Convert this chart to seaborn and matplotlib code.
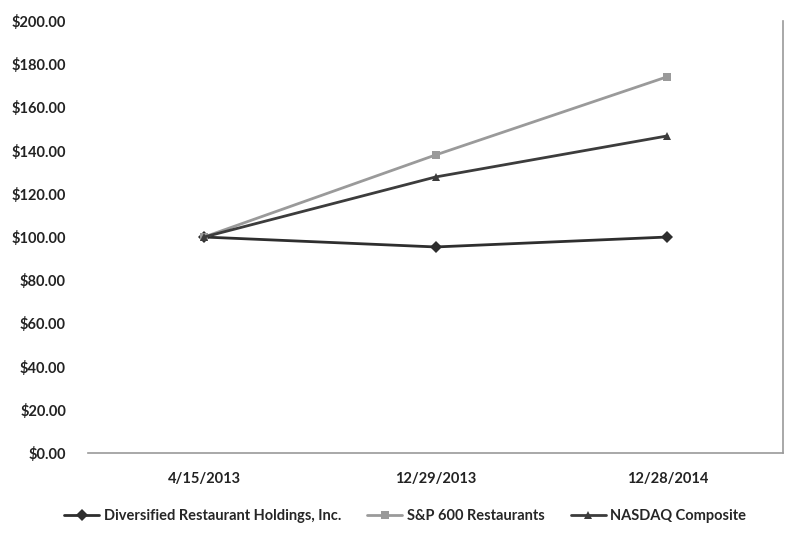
import matplotlib
matplotlib.use("Agg")
import matplotlib.pyplot as plt
import seaborn as sns
import pandas as pd

dates = ["4/15/2013", "12/29/2013", "12/28/2014"]
series_names = ["Diversified Restaurant Holdings, Inc.", "S&P 600 Restaurants", "NASDAQ Composite"]
diversified = [100.0, 95.4, 100.0]
sp600_restaurants = [100.0, 138.0, 174.2]
nasdaq = [100.0, 127.8, 146.8]
y_ticks = [0, 20, 40, 60, 80, 100, 120, 140, 160, 180, 200]

rows = []
for name, vals in zip(series_names, [diversified, sp600_restaurants, nasdaq]):
    for d, v in zip(dates, vals):
        rows.append({"date": d, "value": v, "series": name})
df = pd.DataFrame(rows)

sns.set_theme(style="white")
plt.rcParams["font.family"] = ["Lato", "DejaVu Sans"]

fig = plt.figure(figsize=(7.95, 5.33), dpi=100)
ax = fig.add_axes([0.111, 0.150, 0.874, 0.8106])

palette = {series_names[0]: "#2e2e2e", series_names[1]: "#9a9a9a", series_names[2]: "#3c3c3c"}
markers = {series_names[0]: "D", series_names[1]: "s", series_names[2]: "^"}

sns.lineplot(data=df, x="date", y="value", hue="series", style="series",
             palette=palette, markers=markers, dashes=False, markersize=6,
             linewidth=2.0, markeredgewidth=0, sort=False, ax=ax)

ax.set_xlim(-0.5, 2.5)
ax.set_ylim(0, 200)
ax.set_yticks(y_ticks)
ax.set_yticklabels([f"${v:.2f}" for v in y_ticks], fontsize=10.5, fontweight="bold", color="#222222")
ax.set_xticks(range(len(dates)))
ax.set_xticklabels(dates, fontsize=10.5, fontweight="bold", color="#222222")
ax.tick_params(axis="y", length=0, pad=16)
ax.tick_params(axis="x", length=0, pad=14)
ax.set_xlabel("")
ax.set_ylabel("")

for side in ["top", "left"]:
    ax.spines[side].set_visible(False)
ax.spines["bottom"].set_color("#9a9a9a")
ax.spines["bottom"].set_linewidth(1.2)
ax.spines["right"].set_color("#9a9a9a")
ax.spines["right"].set_linewidth(1.2)

handles, labels = ax.get_legend_handles_labels()
ax.legend(handles, labels, loc="center", bbox_to_anchor=(0.456, -0.146), ncol=3,
          frameon=False, handlelength=2.4, columnspacing=1.8,
          handletextpad=0.3, prop={"weight": "bold", "size": 10.5})

fig.savefig("out.png", dpi=100)
